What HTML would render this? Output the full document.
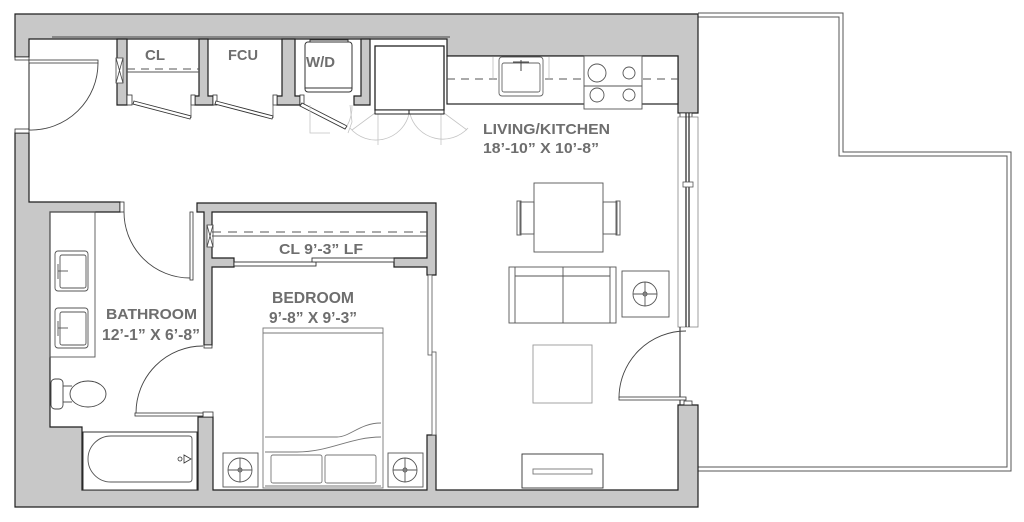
<!DOCTYPE html>
<html><head><meta charset="utf-8"><style>html,body{margin:0;padding:0;background:#fff;}svg{display:block}</style></head>
<body>
<svg width="1024" height="522" viewBox="0 0 1024 522" xmlns="http://www.w3.org/2000/svg">
<rect x="0" y="0" width="1024" height="522" fill="#fff"/>

<!-- terrace outline -->
<g fill="none" stroke="#555" stroke-width="1">
<polyline points="698,13 843,13 843,152 1011,152 1011,471 698,471"/>
<polyline points="698,17 839,17 839,156 1007,156 1007,467 698,467"/>
</g>

<!-- walls -->
<g fill="#c8c8c8" stroke="#1e1e1e" stroke-width="1.2" stroke-linejoin="miter">
<polygon points="15,14 698,14 698,113 678,113 678,56 447,56 447,39 29,39 29,57 15,57"/>
<polygon points="15,133 29,133 29,202 120,202 120,212 50,212 50,427 82,427 82,490 198,490 198,417 213,417 213,490 427,490 427,435 436,435 436,490 678,490 678,405 698,405 698,507 15,507"/>
<polygon points="197,203 436,203 436,275 427,275 427,267 394,267 394,258 427,258 427,212 212,212 212,258 234,258 234,267 212,267 212,345 204,345 204,212 197,212"/>
<polygon points="117,39 127,39 127,105 117,105"/>
<polygon points="199,39 208,39 208,96 213,96 213,105 195,105 195,96 199,96"/>
<polygon points="282,39 295,39 295,96 300,96 300,105 277,105 277,96 282,96"/>
<polygon points="361,39 370,39 370,105 354,105 354,96 361,96"/>
</g>
<line x1="52" y1="37" x2="450" y2="37" stroke="#1e1e1e" stroke-width="0.8"/>

<!-- jambs -->
<g fill="#fff" stroke="#333" stroke-width="0.8">
<rect x="15" y="57" width="14" height="3"/>
<rect x="15" y="129" width="14" height="4"/>
<rect x="127" y="95" width="5" height="10"/>
<rect x="191" y="95" width="4" height="10"/>
<rect x="213" y="95" width="4" height="10"/>
<rect x="273" y="95" width="4" height="10"/>
<rect x="300" y="95" width="4" height="10"/>
<rect x="120" y="202" width="4" height="10"/>
<rect x="204" y="345" width="8" height="3"/>
<rect x="203" y="412" width="10" height="5"/>
<rect x="680" y="113" width="12" height="4"/>
<rect x="684" y="401" width="8" height="4"/>
</g>

<!-- hinge boxes -->
<g fill="#fff" stroke="#444" stroke-width="0.8">
<rect x="116" y="58" width="7" height="25"/>
<path d="M116,58 L123,83 M123,58 L116,83"/>
<rect x="207" y="225" width="6" height="22"/>
<path d="M207,225 L213,247 M213,225 L207,247"/>
</g>

<!-- closet shelves -->
<g stroke="#555" stroke-width="1" fill="none">
<line x1="127" y1="69" x2="199" y2="69" stroke-dasharray="8,6"/>
<line x1="127" y1="72" x2="199" y2="72"/>
<line x1="212" y1="232" x2="427" y2="232" stroke-dasharray="9,7"/>
<line x1="212" y1="236" x2="427" y2="236"/>
</g>

<!-- closet doors -->
<g fill="#fff" stroke="#333" stroke-width="0.9">
<polygon points="134,101 191,116 190,119 133,104"/>
<polygon points="216,101 273,116 272,119 215,104"/>
<polygon points="302,103 347,126 345,129 300,106"/>
<rect x="234" y="262" width="82" height="4"/>
<rect x="312" y="258" width="82" height="4"/>
</g>
<g stroke="#555" stroke-width="0.8">
<line x1="191" y1="96" x2="191" y2="118"/>
<line x1="273" y1="96" x2="273" y2="118"/>
</g>

<!-- W/D unit -->
<g fill="#fff" stroke="#333" stroke-width="1">
<rect x="310" y="40" width="38" height="4"/>
<rect x="305" y="42" width="47" height="50" rx="3"/>
<line x1="305" y1="88" x2="352" y2="88"/>
</g>
<!-- ghost swings -->
<g fill="none" stroke="#c4c4c4" stroke-width="0.8">
<path d="M310,105 L310,133 L330,133"/>
<path d="M350,105 L352,122 L348,133"/>
<path d="M347,126 A40,40 0 0,0 352,105"/>
<path d="M409,114 A34,34 0 0,1 350,128"/>
<path d="M410,114 A34,34 0 0,0 468,128"/>
<line x1="378" y1="113" x2="378" y2="145"/>
<line x1="441" y1="113" x2="441" y2="145"/>
<line x1="375" y1="113" x2="352" y2="130"/>
<line x1="444" y1="113" x2="467" y2="130"/>
</g>

<!-- fridge -->
<g fill="#fff" stroke="#222" stroke-width="1.3">
<rect x="375" y="46" width="69" height="64"/>
<rect x="375" y="110" width="69" height="4" stroke-width="1"/>
<line x1="409" y1="110" x2="409" y2="114" stroke-width="1"/>
</g>

<!-- kitchen counter -->
<rect x="447" y="56" width="231" height="48" fill="#fff" stroke="#222" stroke-width="1.2"/>
<line x1="447" y1="79" x2="678" y2="79" stroke="#555" stroke-width="0.9" stroke-dasharray="8,6"/>
<g stroke="#bbb" stroke-width="0.8">
<line x1="493" y1="57" x2="493" y2="80"/>
<line x1="549" y1="57" x2="549" y2="80"/>
</g>
<g fill="#fff" stroke="#666" stroke-width="0.9">
<rect x="499" y="57" width="44" height="39" rx="3"/>
<rect x="502" y="63" width="38" height="29" rx="2"/>
</g>
<g stroke="#444" stroke-width="1">
<line x1="513" y1="62" x2="529" y2="62"/>
<line x1="521" y1="60" x2="521" y2="71"/>
</g>
<g fill="#fff" stroke="#555" stroke-width="0.9">
<rect x="584" y="56" width="58" height="53"/>
<line x1="584" y1="86" x2="642" y2="86"/>
<circle cx="597" cy="73" r="9"/>
<circle cx="629" cy="73" r="6"/>
<circle cx="597" cy="95" r="7"/>
<circle cx="629" cy="95" r="6"/>
</g>

<!-- right window -->
<rect x="678" y="117" width="20" height="210" fill="#fff" stroke="#888" stroke-width="0.8"/>
<g stroke="#222" stroke-width="1.2">
<line x1="686" y1="113" x2="686" y2="327"/>
<line x1="689" y1="113" x2="689" y2="327"/>
</g>
<rect x="683" y="182" width="10" height="5" fill="#fff" stroke="#555" stroke-width="0.8"/>

<!-- right door -->
<line x1="680" y1="327" x2="680" y2="405" stroke="#222" stroke-width="1"/>
<rect x="619" y="397" width="67" height="3" fill="#fff" stroke="#333" stroke-width="0.8"/>
<path d="M619,398 A67,67 0 0,1 686,331" fill="none" stroke="#444" stroke-width="0.9"/>

<!-- entry door -->
<line x1="29" y1="60" x2="29" y2="130" stroke="#222" stroke-width="1"/>
<rect x="29" y="60" width="69" height="3" fill="#fff" stroke="#333" stroke-width="0.8"/>
<path d="M98,63 A67,67 0 0,1 29,130" fill="none" stroke="#444" stroke-width="0.9"/>

<!-- bathroom doors -->
<rect x="190" y="212" width="3" height="68" fill="#fff" stroke="#333" stroke-width="0.8"/>
<path d="M124,212 A66,66 0 0,0 190,278" fill="none" stroke="#444" stroke-width="0.9"/>
<rect x="135" y="413" width="68" height="3" fill="#fff" stroke="#333" stroke-width="0.8"/>
<path d="M136,413 A67,67 0 0,1 203,346" fill="none" stroke="#444" stroke-width="0.9"/>

<!-- vanity -->
<g fill="none" stroke="#555" stroke-width="0.9">
<rect x="50" y="212" width="45" height="145"/>
<rect x="55" y="251" width="33" height="40" rx="3"/>
<rect x="60" y="255" width="26" height="33" rx="2"/>
<rect x="55" y="308" width="33" height="40" rx="3"/>
<rect x="60" y="312" width="26" height="33" rx="2"/>
<line x1="58" y1="264" x2="58" y2="279"/>
<line x1="58" y1="271" x2="68" y2="271"/>
<line x1="58" y1="321" x2="58" y2="336"/>
<line x1="58" y1="328" x2="68" y2="328"/>
</g>

<!-- toilet -->
<g fill="#fff" stroke="#444" stroke-width="0.9">
<rect x="51" y="379" width="12" height="30" rx="4"/>
<ellipse cx="88" cy="394" rx="18" ry="13"/>
<line x1="63" y1="386" x2="72" y2="386"/>
<line x1="63" y1="402" x2="72" y2="402"/>
</g>

<!-- tub -->
<g fill="#fff" stroke="#333" stroke-width="1">
<rect x="83" y="432" width="114" height="58"/>
<path d="M111,436 L189,436 Q192,436 192,439 L192,479 Q192,482 189,482 L111,482 A23,23 0 0,1 111,436 Z" stroke="#555" stroke-width="0.9"/>
<circle cx="180" cy="459" r="2" stroke-width="0.8"/>
<polygon points="184,455 184,463 191,459" stroke-width="0.8"/>
</g>

<!-- bedroom right pocket -->
<g fill="#fff" stroke="#555" stroke-width="0.8">
<rect x="428" y="275" width="4" height="80"/>
<rect x="432" y="352" width="4" height="83"/>
</g>

<!-- bed -->
<g fill="none" stroke="#777" stroke-width="0.9">
<rect x="263" y="328" width="120" height="160"/>
<line x1="263" y1="333" x2="383" y2="333"/>
<path d="M265,437 L337,437 C350,437 360,423 381,423"/>
<path d="M265,452 L297,452 C330,452 350,437 381,437"/>
<rect x="271" y="455" width="51" height="28" rx="2"/>
<rect x="325" y="455" width="51" height="28" rx="2"/>
<line x1="265" y1="486" x2="381" y2="486"/>
</g>

<!-- nightstands -->
<g fill="none" stroke="#555" stroke-width="0.9">
<rect x="223" y="453" width="35" height="34"/>
<circle cx="240" cy="470" r="12"/>
<circle cx="240" cy="470" r="2"/>
<line x1="228" y1="470" x2="252" y2="470"/>
<line x1="240" y1="458" x2="240" y2="482"/>
<rect x="388" y="453" width="35" height="34"/>
<circle cx="405" cy="470" r="12"/>
<circle cx="405" cy="470" r="2"/>
<line x1="393" y1="470" x2="417" y2="470"/>
<line x1="405" y1="458" x2="405" y2="482"/>
</g>

<!-- living furniture -->
<g fill="none" stroke="#555" stroke-width="0.9">
<rect x="534" y="183" width="69" height="69"/>
<rect x="520" y="202" width="14" height="32"/>
<rect x="517" y="201" width="4" height="34"/>
<rect x="603" y="202" width="14" height="32"/>
<rect x="616" y="201" width="4" height="34"/>
<rect x="509" y="267" width="107" height="56"/>
<line x1="515" y1="267" x2="515" y2="323"/>
<line x1="610" y1="267" x2="610" y2="323"/>
<line x1="515" y1="276" x2="610" y2="276"/>
<line x1="563" y1="267" x2="563" y2="323"/>
<rect x="622" y="271" width="47" height="46"/>
<circle cx="645" cy="294" r="12"/>
<circle cx="645" cy="294" r="2"/>
<line x1="633" y1="294" x2="657" y2="294"/>
<line x1="645" y1="282" x2="645" y2="306"/>
<rect x="533" y="345" width="59" height="58" stroke="#999"/>
<rect x="522" y="454" width="81" height="34" stroke="#333"/>
<rect x="533" y="469" width="59" height="5" stroke="#777"/>
</g>

<!-- labels -->
<g font-family="Liberation Sans, Arial, sans-serif" font-weight="bold" fill="#6e6e6e" font-size="15">
<text x="145" y="60" textLength="20" lengthAdjust="spacingAndGlyphs">CL</text>
<text x="228" y="60" textLength="30" lengthAdjust="spacingAndGlyphs">FCU</text>
<text x="306" y="67" textLength="29" lengthAdjust="spacingAndGlyphs">W/D</text>
<text x="483" y="134" textLength="127" lengthAdjust="spacingAndGlyphs">LIVING/KITCHEN</text>
<text x="483" y="153" textLength="116" lengthAdjust="spacingAndGlyphs">18’-10” X 10’-8”</text>
<text x="279" y="254" textLength="84" lengthAdjust="spacingAndGlyphs">CL 9’-3” LF</text>
<text x="272" y="303" font-size="16" textLength="82" lengthAdjust="spacingAndGlyphs">BEDROOM</text>
<text x="269" y="323" font-size="16" textLength="88" lengthAdjust="spacingAndGlyphs">9’-8” X 9’-3”</text>
<text x="106" y="319" textLength="91" lengthAdjust="spacingAndGlyphs">BATHROOM</text>
<text x="102" y="340" font-size="16" textLength="98" lengthAdjust="spacingAndGlyphs">12’-1” X 6’-8”</text>
</g>
</svg>
</body></html>
